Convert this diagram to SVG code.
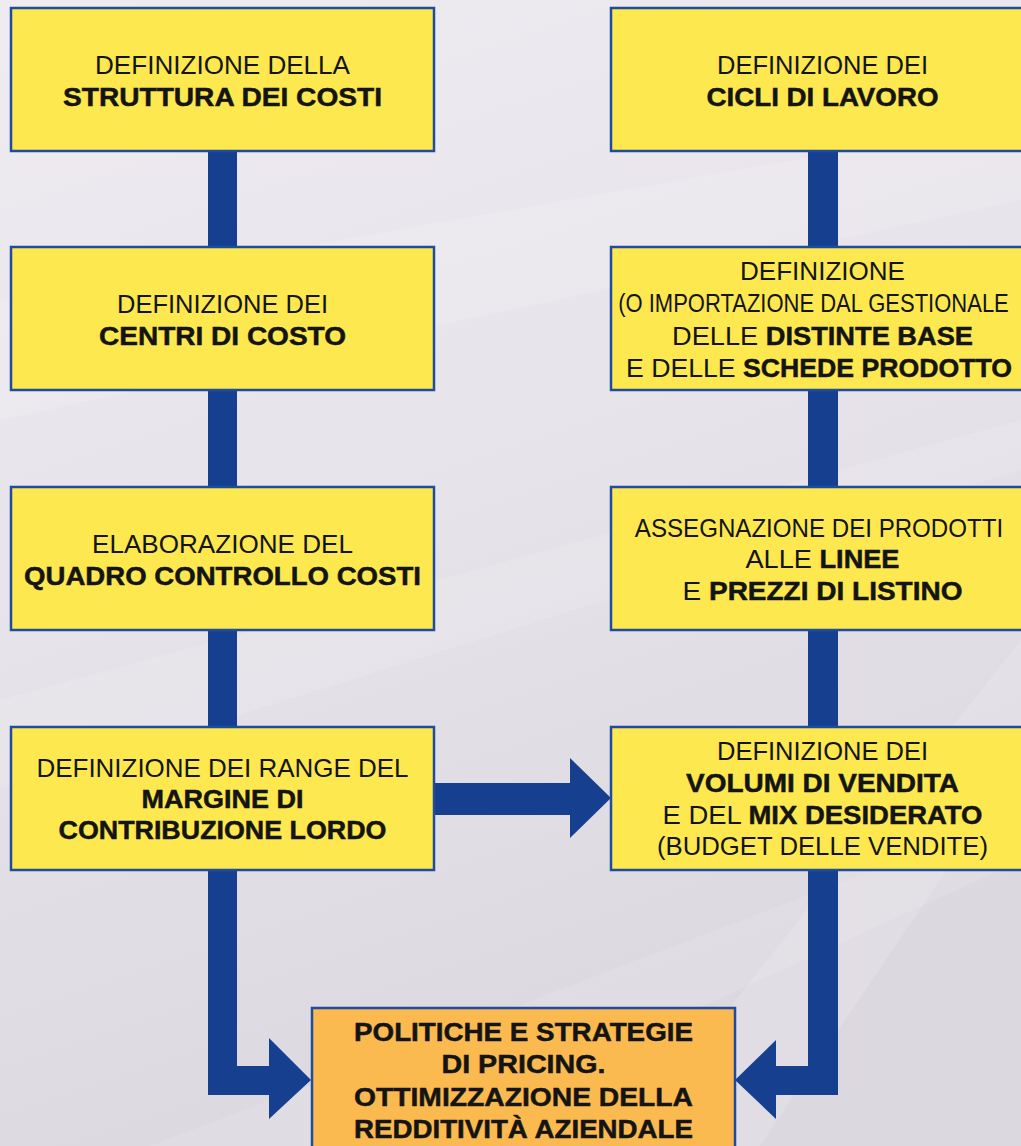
<svg xmlns="http://www.w3.org/2000/svg" width="1021" height="1146" viewBox="0 0 1021 1146">
<style>
.box{fill:#fde94f;stroke:#1f4c9e;stroke-width:2.5}
.final{fill:#fbba4f;stroke:#1f4c9e;stroke-width:2.5}
.arrow{fill:#16408f}
text{font-family:"Liberation Sans",Arial,Helvetica,sans-serif;font-size:26.5px;fill:#141414;text-anchor:middle}
.b{font-weight:bold;stroke:#141414;stroke-width:0.5}
</style>
<defs>
<linearGradient id="bg" x1="0" y1="0" x2="0.3" y2="1">
<stop offset="0" stop-color="#eeecf1"/>
<stop offset="0.5" stop-color="#e6e3ea"/>
<stop offset="1" stop-color="#dcd8e0"/>
</linearGradient>
</defs>
<rect x="0" y="0" width="1021" height="1146" fill="url(#bg)"/>
<g id="background-streaks" fill="#ffffff">
<polygon points="0,300 1021,120 1021,200 0,420" opacity="0.14"/>
<polygon points="0,700 1021,420 1021,470 0,790" opacity="0.12"/>
<polygon points="620,1146 1021,640 1021,760 760,1146" opacity="0.13"/>
<polygon points="150,1146 900,860 1021,860 400,1146" opacity="0.1"/>
</g>
<g id="connectors">
<path class="arrow" d="M208,150 V1095 H269 V1119 L311,1080 L269,1038 V1066 H237 V150 Z"/>
<path class="arrow" d="M838,150 V1095 H776 V1119 L735,1080 L776,1040 V1066 H808 V150 Z"/>
<path class="arrow" d="M434,783 H570 V758 L611,798 L570,838 V815 H434 Z"/>
</g>
<g id="node-struttura-costi">
<rect class="box" x="11" y="8" width="423" height="143"/>
<text x="222.5" y="74" textLength="255" lengthAdjust="spacingAndGlyphs">DEFINIZIONE DELLA</text>
<text class="b" x="222.5" y="106" textLength="319" lengthAdjust="spacingAndGlyphs">STRUTTURA DEI COSTI</text>
</g>
<g id="node-centri-costo">
<rect class="box" x="11" y="247" width="423" height="143"/>
<text x="222.5" y="313" textLength="211" lengthAdjust="spacingAndGlyphs">DEFINIZIONE DEI</text>
<text class="b" x="222.5" y="345" textLength="247" lengthAdjust="spacingAndGlyphs">CENTRI DI COSTO</text>
</g>
<g id="node-quadro-controllo">
<rect class="box" x="11" y="487" width="423" height="143"/>
<text x="222.5" y="553" textLength="261" lengthAdjust="spacingAndGlyphs">ELABORAZIONE DEL</text>
<text class="b" x="222.5" y="585" textLength="397" lengthAdjust="spacingAndGlyphs">QUADRO CONTROLLO COSTI</text>
</g>
<g id="node-margine">
<rect class="box" x="11" y="727" width="423" height="143"/>
<text x="222.5" y="777" textLength="372" lengthAdjust="spacingAndGlyphs">DEFINIZIONE DEI RANGE DEL</text>
<text class="b" x="222.5" y="808" textLength="162" lengthAdjust="spacingAndGlyphs">MARGINE DI</text>
<text class="b" x="222.5" y="839" textLength="328" lengthAdjust="spacingAndGlyphs">CONTRIBUZIONE LORDO</text>
</g>
<g id="node-cicli-lavoro">
<rect class="box" x="611" y="8" width="423" height="143"/>
<text x="822.5" y="74" textLength="211" lengthAdjust="spacingAndGlyphs">DEFINIZIONE DEI</text>
<text class="b" x="822.5" y="106" textLength="232" lengthAdjust="spacingAndGlyphs">CICLI DI LAVORO</text>
</g>
<g id="node-distinte-base">
<rect class="box" x="611" y="247" width="423" height="143"/>
<text x="822.5" y="280" textLength="165" lengthAdjust="spacingAndGlyphs">DEFINIZIONE</text>
<text transform="translate(813.5,312) scale(0.83,1)" x="0" y="0">(O IMPORTAZIONE DAL GESTIONALE</text>
<text x="822.5" y="345" textLength="301" lengthAdjust="spacingAndGlyphs">DELLE <tspan class="b">DISTINTE BASE</tspan></text>
<text x="819" y="377" textLength="386" lengthAdjust="spacingAndGlyphs">E DELLE <tspan class="b">SCHEDE PRODOTTO</tspan></text>
</g>
<g id="node-prezzi-listino">
<rect class="box" x="611" y="487" width="423" height="143"/>
<text transform="translate(819,537) scale(0.91,1)" x="0" y="0">ASSEGNAZIONE DEI PRODOTTI</text>
<text x="822.5" y="568" textLength="154" lengthAdjust="spacingAndGlyphs">ALLE <tspan class="b">LINEE</tspan></text>
<text x="822.5" y="600" textLength="280" lengthAdjust="spacingAndGlyphs">E <tspan class="b">PREZZI DI LISTINO</tspan></text>
</g>
<g id="node-volumi-vendita">
<rect class="box" x="611" y="727" width="423" height="143"/>
<text x="822.5" y="760" textLength="211" lengthAdjust="spacingAndGlyphs">DEFINIZIONE DEI</text>
<text class="b" x="822.5" y="792" textLength="273" lengthAdjust="spacingAndGlyphs">VOLUMI DI VENDITA</text>
<text x="822.5" y="824" textLength="320" lengthAdjust="spacingAndGlyphs">E DEL <tspan class="b">MIX DESIDERATO</tspan></text>
<text x="822.5" y="855" textLength="331" lengthAdjust="spacingAndGlyphs">(BUDGET DELLE VENDITE)</text>
</g>
<g id="node-pricing">
<rect class="final" x="312" y="1008" width="423" height="150"/>
<text class="b" x="523.5" y="1041" textLength="339" lengthAdjust="spacingAndGlyphs">POLITICHE E STRATEGIE</text>
<text class="b" x="523.5" y="1073" textLength="164" lengthAdjust="spacingAndGlyphs">DI PRICING.</text>
<text class="b" x="523.5" y="1106" textLength="339" lengthAdjust="spacingAndGlyphs">OTTIMIZZAZIONE DELLA</text>
<text class="b" x="523.5" y="1138" textLength="339" lengthAdjust="spacingAndGlyphs">REDDITIVITÀ AZIENDALE</text>
</g>
</svg>
